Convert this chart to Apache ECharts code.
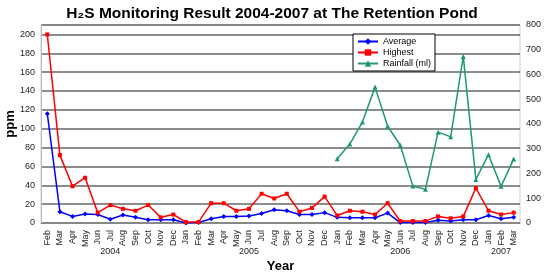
<!DOCTYPE html>
<html>
<head>
<meta charset="utf-8">
<script src="https://cdn.jsdelivr.net/npm/echarts@6/dist/echarts.min.js"></script>
<style>
  html, body { margin: 0; padding: 0; background: #fff; }
  #chart { width: 544px; height: 272px; }
</style>
</head>
<body>
<div id="chart"></div>
<script>
// month labels, Feb 2004 .. Mar 2007
const months = [
  'Feb', 'Mar', 'Apr', 'May', 'Jun', 'Jul', 'Aug', 'Sep', 'Oct', 'Nov', 'Dec',
  'Jan', 'Feb', 'Mar', 'Apr', 'May', 'Jun', 'Jul', 'Aug', 'Sep', 'Oct', 'Nov', 'Dec',
  'Jan', 'Feb', 'Mar', 'Apr', 'May', 'Jun', 'Jul', 'Aug', 'Sep', 'Oct', 'Nov', 'Dec',
  'Jan', 'Feb', 'Mar'
]
// year labels shown under the months (same positions)
const years = [
  '', '', '', '', '', '2004', '', '', '', '', '',
  '', '', '', '', '', '2005', '', '', '', '', '', '',
  '', '', '', '', '', '2006', '', '', '', '', '', '',
  '', '2007', ''
]
const average = [
  116, 12, 7, 9.5, 9, 4, 8.5, 6, 3.5, 3.5, 3.5,
  0, 0.5, 4.5, 7, 7, 7.5, 10, 14, 13, 9, 9, 11,
  6, 5.5, 5.5, 5.5, 10.5, 0.5, 0.5, 0.5, 3, 2, 3.5, 3.5,
  8, 4.5, 6
]
const highest = [
  200, 72, 39, 48, 11, 19, 15, 13, 19, 6, 9,
  1, 1, 21, 21, 13, 15, 31, 26, 31, 12, 16, 28,
  8, 13, 12, 9, 21, 2, 2, 2, 7, 5, 7, 37,
  13, 9, 11
]
// rainfall only recorded from Jan 2006
const rainfall = [
  null, null, null, null, null, null, null, null, null, null, null,
  null, null, null, null, null, null, null, null, null, null, null, null,
  260, 319, 408, 549, 391, 314, 149, 136, 367, 348, 673, 176,
  276, 148, 259
]
const ppmTicks = { min: 0, max: 210, interval: 20 }
const rainTicks = { min: 0, max: 800, interval: 100 }

const chart = echarts.init(document.getElementById('chart'))

const labelFont = { color: '#222', fontSize: 9, fontFamily: 'Arial' }

const option = {
  animation: false,
  backgroundColor: '#fff',
  title: {
    text: 'H₂S Monitoring Result 2004-2007 at The Retention Pond',
    left: 'center',
    top: 1,
    textStyle: { fontSize: 15.5, fontWeight: 'bold', fontFamily: 'Arial', color: '#000' }
  },
  legend: {
    orient: 'vertical',
    left: 353,
    top: 34,
    backgroundColor: '#fff',
    borderColor: '#000',
    borderWidth: 1,
    padding: [3, 4, 3, 4],
    itemGap: 2,
    itemWidth: 20,
    itemHeight: 8,
    textStyle: { fontSize: 9, fontFamily: 'Arial', color: '#000' },
    data: ['Average', 'Highest', 'Rainfall (ml)']
  },
  grid: {
    left: 41, right: 24, top: 25, bottom: 49,
    outerBoundsMode: 'none',
    show: true, borderColor: '#ccc', borderWidth: 1
  },
  xAxis: [
    {
      type: 'category',
      data: months,
      boundaryGap: true,
      axisLine: { lineStyle: { color: '#888' } },
      axisTick: { show: false },
      axisLabel: Object.assign({ rotate: 90, interval: 0, margin: 7 }, labelFont),
      name: 'Year',
      nameLocation: 'middle',
      nameGap: 37,
      nameMoveOverlap: false,
      nameTextStyle: { fontSize: 13, fontWeight: 'bold', fontFamily: 'Arial', color: '#000' }
    },
    {
      type: 'category',
      data: years,
      position: 'bottom',
      offset: 21,
      axisLine: { show: false },
      axisTick: { show: false },
      axisLabel: Object.assign({ interval: 0, margin: 3 }, labelFont)
    }
  ],
  yAxis: [
    {
      type: 'value',
      min: ppmTicks.min,
      max: ppmTicks.max,
      interval: ppmTicks.interval,
      name: 'ppm',
      nameLocation: 'middle',
      nameGap: 24,
      nameRotate: 90,
      nameMoveOverlap: false,
      nameTextStyle: { fontSize: 13, fontWeight: 'bold', fontFamily: 'Arial', color: '#000' },
      axisLine: { show: true, lineStyle: { color: '#bbb' } },
      axisTick: { show: false },
      axisLabel: Object.assign({
        margin: 6,
        formatter: v => (v > 200 ? '' : v)
      }, labelFont),
      splitLine: { lineStyle: { color: '#666', width: 1.5 } }
    },
    {
      type: 'value',
      min: rainTicks.min,
      max: rainTicks.max,
      interval: rainTicks.interval,
      position: 'right',
      axisLine: { show: false },
      axisTick: { show: false },
      axisLabel: Object.assign({ margin: 6 }, labelFont),
      splitLine: { show: false }
    }
  ],
  series: [
    {
      name: 'Average',
      type: 'line',
      data: average,
      symbol: 'diamond',
      symbolSize: 5,
      color: '#0000ff',
      lineStyle: { width: 1.5 }
    },
    {
      name: 'Highest',
      type: 'line',
      data: highest,
      symbol: 'rect',
      symbolSize: 4,
      color: '#ff0000',
      lineStyle: { width: 1.5 }
    },
    {
      name: 'Rainfall (ml)',
      type: 'line',
      yAxisIndex: 1,
      data: rainfall,
      symbol: 'triangle',
      symbolSize: 5,
      color: '#1f9a68',
      lineStyle: { width: 1.5 }
    }
  ]
}

chart.setOption(option)
</script>
</body>
</html>
